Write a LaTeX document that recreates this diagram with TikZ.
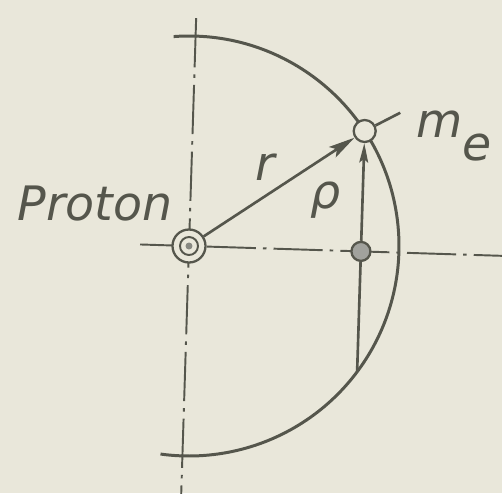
\documentclass[tikz,border=0pt]{standalone}
\usepackage{fontspec}
\setmainfont{DejaVu Sans}
\usetikzlibrary{arrows.meta, positioning, calc}
\definecolor{Paper}{HTML}{E9E7DA}
\definecolor{Ink}{HTML}{55564C}

\begin{document}
\begin{tikzpicture}[color=Ink, line width=1.5pt,
  axisline/.style={line width=1.1pt, dash pattern=on 28pt off 4pt on 2pt off 4pt},
  particle/.style={draw, circle, fill=Paper, inner sep=0pt, line width=1.3pt},
  rarrow/.style={-{Stealth[length=15pt, width=7pt, inset=3pt]}},
  rhoarrow/.style={-{Stealth[length=11pt, width=5pt, inset=2pt]}},
  lbl/.style={font=\fontsize{27}{30}\selectfont\itshape, text=Ink, inner sep=0pt}]
  \useasboundingbox[fill=Paper] (-3.78,-4.94) rectangle (6.26,4.92);
  \begin{scope}[rotate=-1.8]
    % axes through the proton
    \draw[axisline] (-0.98,0) -- (6.4,0);
    \draw[axisline] (0,4.56) -- (0,-5.2);
    % orbit
    \draw[line width=1.7pt] (96:4.2) arc[start angle=96, end angle=-96, radius=4.2];
    % particles
    \node[particle, minimum size=0.66cm] (P) at (0,0) {};
    \draw[line width=1.1pt] (P.center) circle (0.18);
    \fill[Ink!70] (P.center) circle (0.07);
    \node[particle, minimum size=0.44cm] (E) at (35:4.2) {};
    \node[particle, fill=Ink!55, minimum size=0.38cm] (F) at ({4.2*cos(35)},0) {};
    \coordinate (B) at (-35:4.2);
    \coordinate (L) at ($(E)+(29:0.8)$);
    % vectors
    \draw[rarrow] (P) -- (E);
    \draw (F) -- (B);
    \draw[rhoarrow] (F) -- (E);
    \draw (E) -- (L);
  \end{scope}
  % labels
  \node[lbl, anchor=base east] (proton) at (-0.3,0.52) {Proton};
  \node[lbl, anchor=base] (rlab) at (1.52,1.32) {r};
  \node[lbl, anchor=base] (rholab) at (2.74,0.76) {ρ};
  \node[lbl, anchor=base west] (melab) at (4.52,2.18) {m\raisebox{-0.46cm}{e}};
\end{tikzpicture}
\end{document}
